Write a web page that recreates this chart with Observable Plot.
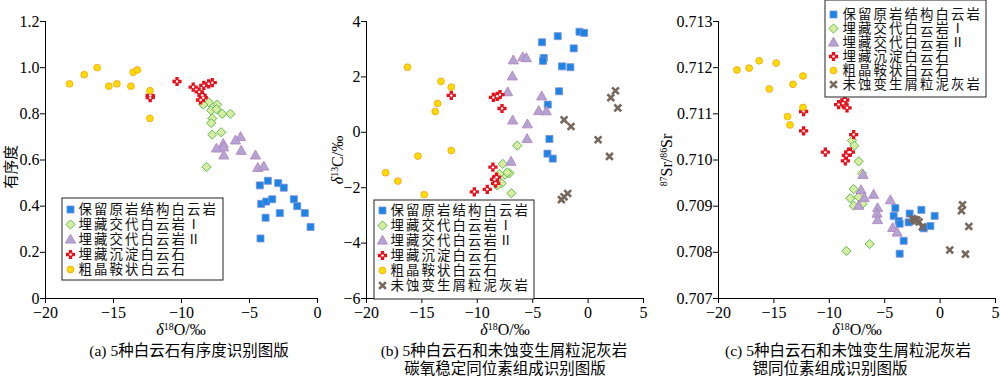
<!DOCTYPE html>
<html><head><meta charset="utf-8">
<script src="https://cdn.jsdelivr.net/npm/d3@7"></script>
<script src="https://cdn.jsdelivr.net/npm/@observablehq/plot@0.6"></script>
<style>
body{margin:0;width:1000px;height:379px;position:relative;overflow:hidden;background:#fff;color:#000;font-family:"Liberation Serif","Noto Sans CJK SC",serif;}
.abs{position:absolute;}
.ylab{position:absolute;white-space:nowrap;line-height:1;transform:translate(-50%,-50%) rotate(-90deg);font-size:16px;}
.xlab{position:absolute;white-space:nowrap;line-height:1;transform:translate(-50%,-50%);font-size:16px;}
.cap{position:absolute;white-space:nowrap;line-height:1;transform:translate(-50%,-50%);font-size:15.5px;font-family:"Liberation Serif","Noto Sans CJK SC",serif;}
sup{font-size:0.62em;vertical-align:0.5em;line-height:0;}
.leg text{letter-spacing:2.1px;}
</style>
</head><body>
<div id="pa" class="abs" style="left:0;top:0"></div>
<div id="pb" class="abs" style="left:330px;top:0"></div>
<div id="pc" class="abs" style="left:660px;top:0"></div>
<script>
// ---------- data ----------
const seriesNames = ["保留原岩结构白云岩","埋藏交代白云岩Ⅰ","埋藏交代白云岩Ⅱ","埋藏沉淀白云石","粗晶鞍状白云石","未蚀变生屑粒泥灰岩"];

const xTicks = [-20,-15,-10,-5,0];
const xTicksBC = [-20,-15,-10,-5,0,5];
const yTicksA = [0,0.2,0.4,0.6,0.8,1.0,1.2];
const yTicksB = [-6,-4,-2,0,2,4];
const yTicksC = [0.707,0.708,0.709,0.710,0.711,0.712,0.713];

// panel (a): δ18O vs 有序度
const a_preserved = [[-4.24,0.49],[-3.65,0.51],[-2.89,0.50],[-2.48,0.48],[-4.14,0.41],[-3.77,0.42],[-3.33,0.43],[-1.74,0.43],[-1.49,0.40],[-0.93,0.37],[-2.77,0.37],[-3.82,0.35],[-0.51,0.31],[-4.19,0.26]];
const a_replaceI = [[-7.99,0.85],[-7.37,0.84],[-8.4,0.84],[-7.82,0.815],[-7.43,0.82],[-7.01,0.80],[-6.4,0.80],[-7.74,0.78],[-7.82,0.76],[-7.74,0.71],[-7.08,0.72],[-8.16,0.57]];
const a_replaceII = [[-5.66,0.70],[-6.03,0.685],[-6.93,0.67],[-6.9,0.655],[-7.43,0.65],[-6.89,0.62],[-5.61,0.64],[-4.56,0.62],[-4.39,0.566],[-3.95,0.572]];
const a_precip = [[-12.3,0.88],[-12.3,0.87],[-10.33,0.94],[-9.14,0.916],[-8.36,0.923],[-8.0,0.93],[-7.74,0.935],[-8.48,0.88],[-8.6,0.86],[-8.4,0.87],[-8.7,0.895]];
const a_saddle = [[-18.23,0.93],[-17.15,0.97],[-16.2,1.00],[-15.34,0.92],[-14.75,0.93],[-13.72,0.92],[-13.55,0.98],[-13.25,0.99],[-12.32,0.90],[-12.32,0.78]];

// panel (b): δ18O vs δ13C
const b_preserved = [[-4.16,3.25],[-2.74,3.47],[-0.78,3.63],[-0.36,3.59],[-1.3,3.03],[-4.0,2.68],[-4.07,2.58],[-2.35,2.38],[-1.6,2.35],[-2.62,1.48],[-3.64,1.0],[-3.49,-0.24],[-3.67,-0.77],[-3.19,-0.95]];
const b_replaceI = [[-6.39,-0.48],[-7.7,-1.14],[-7.1,-1.48],[-7.5,-1.53],[-8.0,-1.5],[-7.3,-1.45],[-7.8,-1.84],[-8.2,-1.92],[-6.93,-2.2]];
const b_replaceII = [[-6.75,2.6],[-5.9,2.71],[-5.57,2.68],[-6.84,2.02],[-7.26,1.45],[-4.19,1.30],[-4.46,0.77],[-3.77,0.76],[-6.81,0.43],[-5.48,0.29],[-5.51,-0.24],[-6.96,-1.06]];
const b_precip = [[-12.35,1.33],[-8.55,1.26],[-7.95,1.36],[-8.2,1.3],[-7.77,0.86],[-8.59,-1.26],[-8.26,-1.62],[-8.45,-1.7],[-8.35,-1.84],[-9.1,-2.06],[-10.27,-2.15]];
const b_saddle = [[-16.3,2.35],[-13.28,1.84],[-12.35,1.63],[-13.58,1.04],[-13.8,0.75],[-12.35,-0.66],[-15.36,-0.86],[-18.28,-1.46],[-17.17,-1.76],[-14.79,-2.25]];
const b_limestone = [[2.47,1.5],[2.05,1.25],[2.68,0.88],[-2.17,0.45],[-1.54,0.21],[0.9,-0.27],[1.93,-0.87],[-1.84,-2.21],[-2.17,-2.33],[-2.41,-2.43]];

// panel (c): δ18O vs 87Sr/86Sr
const c_preserved = [[-4.04,0.70896],[-4.19,0.70879],[-3.74,0.70868],[-3.65,0.70862],[-2.75,0.70884],[-2.84,0.70865],[-1.69,0.70892],[-0.49,0.70879],[-0.88,0.70857],[-1.48,0.70852],[-3.29,0.70825],[-3.65,0.70797]];
const c_replaceI = [[-7.95,0.71042],[-7.74,0.71031],[-7.35,0.70997],[-7.05,0.70971],[-7.8,0.70937],[-8.1,0.70917],[-7.35,0.7092],[-7.8,0.70901],[-7.0,0.70905],[-6.36,0.70818],[-8.46,0.70803]];
const c_replaceII = [[-6.96,0.70968],[-7.14,0.70935],[-6.84,0.70918],[-6.0,0.70925],[-7.35,0.70901],[-5.64,0.70896],[-5.69,0.70884],[-5.64,0.7087],[-4.49,0.70913],[-4.28,0.70853],[-3.88,0.70843]];
const c_precip = [[-12.32,0.71105],[-12.32,0.71063],[-9.16,0.7112],[-8.76,0.71123],[-8.4,0.71113],[-8.6,0.7113],[-7.8,0.71055],[-10.36,0.71017],[-8.1,0.71017],[-8.46,0.7101],[-8.55,0.70998],[-8.26,0.71017]];
const c_saddle = [[-18.34,0.71195],[-17.23,0.71199],[-16.33,0.71215],[-14.79,0.7121],[-15.42,0.71154],[-13.28,0.71164],[-12.38,0.71182],[-12.38,0.71114],[-13.77,0.71094],[-13.55,0.71076]];
const c_limestone = [[-2.5,0.70873],[-2.3,0.70871],[-2.1,0.7087],[-1.9,0.70866],[-2.2,0.70868],[-1.6,0.70855],[2.02,0.70903],[1.93,0.7089],[2.59,0.70856],[0.87,0.70805],[2.29,0.70796]];

// ---------- symbols & styles ----------
const R = s => Math.sqrt(s / Math.PI);
const symSquare = {draw(c, s){const r=R(s); c.rect(-r,-r,2*r,2*r);}};
const symDiamond = {draw(c, s){const r=R(s); c.moveTo(0,-r); c.lineTo(r,0); c.lineTo(0,r); c.lineTo(-r,0); c.closePath();}};
const symTriangle = {draw(c, s){const r=R(s); c.moveTo(0,-r); c.lineTo(r*0.95,r*0.68); c.lineTo(-r*0.95,r*0.68); c.closePath();}};
const symPlus = {draw(c, s){const r=R(s), a=r*0.36;
  c.moveTo(-a,-r); c.lineTo(a,-r); c.lineTo(a,-a); c.lineTo(r,-a); c.lineTo(r,a); c.lineTo(a,a);
  c.lineTo(a,r); c.lineTo(-a,r); c.lineTo(-a,a); c.lineTo(-r,a); c.lineTo(-r,-a); c.lineTo(-a,-a); c.closePath();}};
const symStar = {draw(c, s){const r=R(s); c.moveTo(-r,-r); c.lineTo(r,r); c.moveTo(-r,r); c.lineTo(r,-r);}};

const styles = [
  {symbol: symSquare, r: 3.5, fill: "#1c84e6", stroke: "#7a8fd6", sw: 0.8},
  {symbol: symDiamond, r: 4.6, fill: "#d6eda2", stroke: "#52b548", sw: 0.9},
  {symbol: symTriangle, r: 5.3, fill: "#b2a5d4", stroke: "#b585bd", sw: 0.9},
  {symbol: symPlus, r: 4.6, fill: "#e5101c", stroke: "none", sw: 0},
  {symbol: "circle", r: 3.4, fill: "#ffdc00", stroke: "#f5a01e", sw: 0.8},
  {symbol: symStar, r: 3.4, fill: "none", stroke: "#77685d", sw: 2.6}
];

const rows = arr => arr.map(([x, y]) => ({x, y}));

function seriesMarks(data, i) {
  const s = styles[i];
  const m = [Plot.dot(data, {x: "x", y: "y", symbol: s.symbol, r: s.r, fill: s.fill, stroke: s.stroke, strokeWidth: s.sw})];
  if (i === 3) m.push(Plot.dot(data, {x: "x", y: "y", r: 1.25, fill: "white"}));
  return m;
}

const FONT = "'Liberation Serif','Noto Sans CJK SC',serif";

function panel(el, o) {
  const marks = [
    Plot.ruleX([o.xDomain[0]], {stroke: "#000", strokeWidth: 1}),
    Plot.ruleY([o.yDomain[0]], {stroke: "#000", strokeWidth: 1})
  ];
  o.series.forEach((arr, i) => { if (arr) marks.push(...seriesMarks(rows(arr), i)); });
  const p = Plot.plot({
    width: o.width, height: 322,
    marginTop: 21, marginBottom: 24, marginLeft: o.ml, marginRight: o.mr,
    style: {fontFamily: FONT, fontSize: "16px", background: "transparent", overflow: "visible", color: "#000"},
    x: {domain: o.xDomain, ticks: o.xTicks, tickSize: 5, tickPadding: 3, label: null},
    y: {domain: o.yDomain, ticks: o.yTicks, tickFormat: o.yFormat, tickSize: 5, tickPadding: 1, label: null},
    marks
  });
  document.getElementById(el).appendChild(p);
}

function legend(o) {
  const n = o.names.length;
  const marks = [Plot.frame({fill: "white", stroke: "#222", inset: 0.5})];
  o.names.forEach((name, i) => marks.push(...seriesMarks([{x: 0, y: name}], o.idx[i])));
  marks.push(Plot.text(o.names, {x: () => 0, y: d => d, text: d => d, dx: o.textX - o.symX, textAnchor: "start",
    fontSize: 13.4, fontFamily: "'Liberation Serif','Noto Sans CJK SC',serif", fill: "#111"}));
  const p = Plot.plot({
    width: o.width, height: o.height, margin: 0,
    style: {background: "transparent", overflow: "visible"},
    x: {domain: [0, 1], range: [o.symX, o.symX + 1], axis: null},
    y: {type: "point", padding: 0, domain: o.names, range: [o.y0, o.y0 + o.dy * (n - 1)], axis: null},
    marks
  });
  const d = document.createElement("div");
  d.className = "abs leg";
  d.style.left = o.left + "px"; d.style.top = o.top + "px";
  d.appendChild(p);
  document.body.appendChild(d);
}

panel("pa", {width: 330, ml: 45, mr: 13, xDomain: [-20, 0], xTicks, yDomain: [0, 1.2], yTicks: yTicksA,
  yFormat: d => d === 0 ? "0" : d.toFixed(1),
  series: [a_preserved, a_replaceI, a_replaceII, a_precip, a_saddle, null]});
panel("pb", {width: 330, ml: 36, mr: 17, xDomain: [-20, 5], xTicks: xTicksBC, yDomain: [-6, 4], yTicks: yTicksB,
  yFormat: d3.format("d"),
  series: [b_preserved, b_replaceI, b_replaceII, b_precip, b_saddle, b_limestone]});
panel("pc", {width: 340, ml: 58, mr: 5, xDomain: [-20, 5], xTicks: xTicksBC, yDomain: [0.707, 0.713], yTicks: yTicksC,
  yFormat: d => d.toFixed(3),
  series: [c_preserved, c_replaceI, c_replaceII, c_precip, c_saddle, c_limestone]});

legend({names: seriesNames.slice(0, 5), idx: [0,1,2,3,4], left: 61, top: 197, width: 162, height: 83, y0: 11.5, dy: 15.3, symX: 9, textX: 17});
legend({names: seriesNames, idx: [0,1,2,3,4,5], left: 373, top: 199, width: 161, height: 100, y0: 10.5, dy: 15.3, symX: 9, textX: 17});
legend({names: seriesNames, idx: [0,1,2,3,4,5], left: 824, top: -1, width: 162, height: 98, y0: 13, dy: 14.8, symX: 9, textX: 18});
</script>
<div class="ylab" style="left:10px;top:167px;font-family:'Noto Sans CJK SC',sans-serif;font-size:14.5px">有序度</div>
<div class="ylab" style="left:338px;top:160px"><i>δ</i><sup>13</sup>C/‰</div>
<div class="ylab" style="left:667px;top:160px"><sup>87</sup>Sr/<sup>86</sup>Sr</div>
<div class="xlab" style="left:181px;top:330px"><i>δ</i><sup>18</sup>O/‰</div>
<div class="xlab" style="left:505px;top:330px"><i>δ</i><sup>18</sup>O/‰</div>
<div class="xlab" style="left:857px;top:330px"><i>δ</i><sup>18</sup>O/‰</div>
<div class="cap" style="left:189px;top:351px">(a) 5种白云石有序度识别图版</div>
<div class="cap" style="left:504px;top:351px">(b) 5种白云石和未蚀变生屑粒泥灰岩</div>
<div class="cap" style="left:505px;top:369px">碳氧稳定同位素组成识别图版</div>
<div class="cap" style="left:848px;top:351px">(c) 5种白云石和未蚀变生屑粒泥灰岩</div>
<div class="cap" style="left:830px;top:369px">锶同位素组成识别图版</div>
</body></html>
